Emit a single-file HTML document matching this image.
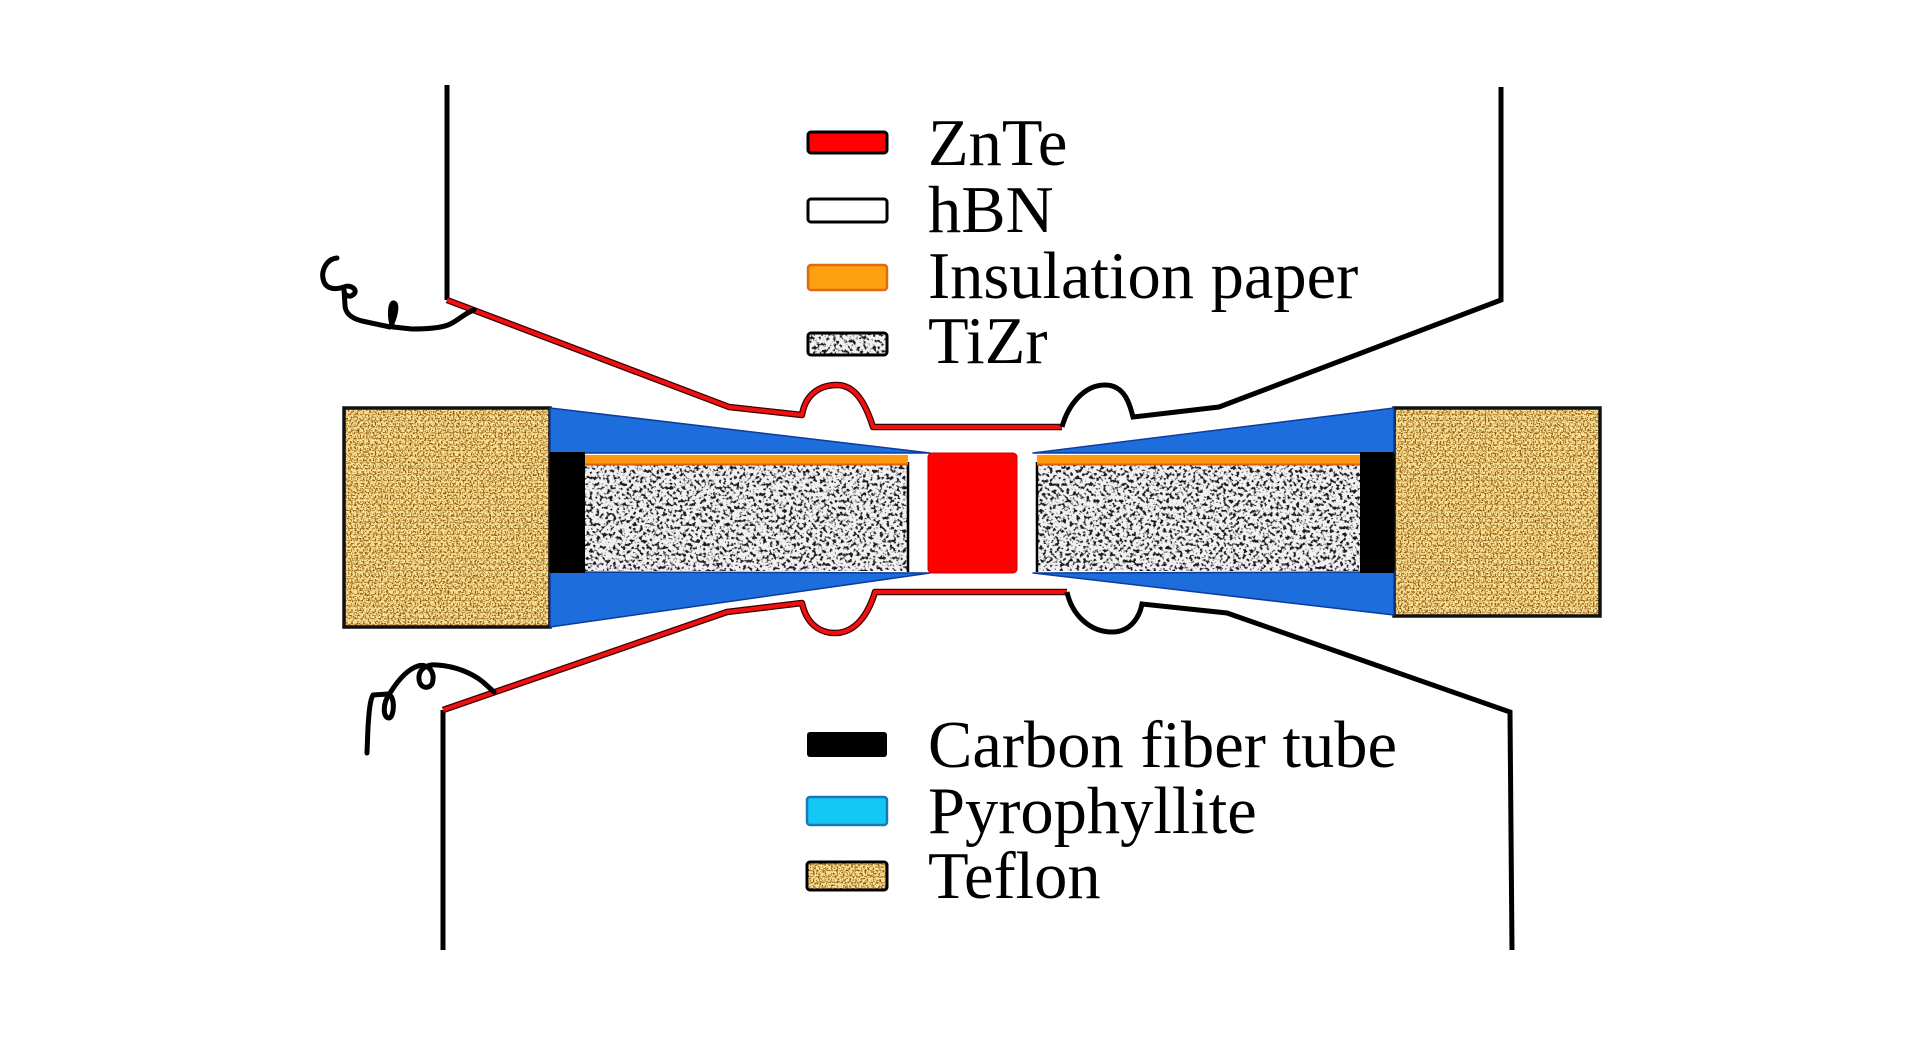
<!DOCTYPE html>
<html>
<head>
<meta charset="utf-8">
<style>
  html,body{margin:0;padding:0;background:#fff;}
  svg{display:block;}
  text{font-family:"Liberation Serif","Times New Roman",serif;font-size:66.5px;fill:#000;}
</style>
</head>
<body>
<svg width="1923" height="1039" viewBox="0 0 1923 1039" xmlns="http://www.w3.org/2000/svg">
  <defs>
    <filter id="fz" x="0" y="0" width="1" height="1" filterUnits="objectBoundingBox" color-interpolation-filters="sRGB">
      <feTurbulence type="fractalNoise" baseFrequency="0.3" numOctaves="2" seed="7" result="n"/>
      <feColorMatrix in="n" type="matrix" values="0 0 0 0 0.1  0 0 0 0 0.1  0 0 0 0 0.12  -6.5 0 0 0 3.2"/>
    </filter>
    <filter id="ft" x="0" y="0" width="1" height="1" filterUnits="objectBoundingBox" color-interpolation-filters="sRGB">
      <feTurbulence type="fractalNoise" baseFrequency="0.6" numOctaves="2" seed="3" result="n"/>
      <feColorMatrix in="n" type="matrix" values="0 0 0 0 0.5  0 0 0 0 0.32  0 0 0 0 0.06  -5 0 0 0 2.5"/>
    </filter>
    <pattern id="tw" width="6" height="6" patternUnits="userSpaceOnUse">
      <rect width="6" height="6" fill="#fbe39a"/>
      <rect x="0" y="0" width="3" height="1.2" fill="#c99438"/>
      <rect x="3" y="3" width="1.2" height="3" fill="#c99438"/>
      <rect x="4.5" y="0" width="1" height="1" fill="#e0b25a"/>
    </pattern>
  </defs>

  <!-- ===== Teflon blocks ===== -->
  <rect x="344" y="408" width="206" height="219" fill="url(#tw)"/>
  <rect x="344" y="408" width="206" height="219" fill="#000" filter="url(#ft)"/>
  <rect x="344" y="408" width="206" height="219" fill="none" stroke="#111" stroke-width="3.5"/>

  <rect x="1394" y="408" width="206" height="208" fill="url(#tw)"/>
  <rect x="1394" y="408" width="206" height="208" fill="#000" filter="url(#ft)"/>
  <rect x="1394" y="408" width="206" height="208" fill="none" stroke="#111" stroke-width="3.5"/>

  <!-- ===== Pyrophyllite (blue) ===== -->
  <polygon points="550,408 930,453 550,453" fill="#1e6ddc" stroke="#0d3c9c" stroke-width="1.5" stroke-linejoin="round"/>
  <polygon points="550,572 930,573 550,627" fill="#1e6ddc" stroke="#0d3c9c" stroke-width="1.5" stroke-linejoin="round"/>
  <polygon points="1394,408 1033,453 1394,453" fill="#1e6ddc" stroke="#0d3c9c" stroke-width="1.5" stroke-linejoin="round"/>
  <polygon points="1394,572 1033,573 1394,615" fill="#1e6ddc" stroke="#0d3c9c" stroke-width="1.5" stroke-linejoin="round"/>

  <!-- ===== Carbon fiber tube ===== -->
  <rect x="550" y="452" width="35" height="121" fill="#000"/>
  <rect x="1360" y="452" width="34" height="121" fill="#000"/>

  <!-- ===== TiZr ===== -->
  <rect x="585" y="465" width="323" height="106" fill="#f2f2f2"/>
  <rect x="585" y="465" width="323" height="106" fill="#000" filter="url(#fz)"/>
  <rect x="1037" y="465" width="323" height="106" fill="#f2f2f2"/>
  <rect x="1037" y="465" width="323" height="106" fill="#000" filter="url(#fz)"/>
  <line x1="908" y1="462" x2="908" y2="572" stroke="#000" stroke-width="2.5"/>
  <line x1="1037" y1="462" x2="1037" y2="572" stroke="#000" stroke-width="2.5"/>

  <!-- ===== Insulation paper ===== -->
  <rect x="585" y="455" width="323" height="10" fill="#ff9a10"/>
  <line x1="585" y1="464.5" x2="908" y2="464.5" stroke="#e06000" stroke-width="2"/>
  <rect x="1037" y="455" width="323" height="10" fill="#ff9a10"/>
  <line x1="1037" y1="464.5" x2="1360" y2="464.5" stroke="#e06000" stroke-width="2"/>

  <!-- ===== ZnTe ===== -->
  <rect x="928" y="453" width="89" height="120" rx="4" fill="#ff0000" stroke="#d00000" stroke-width="1"/>

  <!-- ===== Wires top ===== -->
  <path d="M447,85 L447,300" stroke="#000" stroke-width="5" fill="none"/>
  <path d="M447,300 L729,407 L802,415 C805,396 818,385 837,385 C856,385 866,405 873,427 L1062,427" stroke="#3a0000" stroke-width="6.5" fill="none" stroke-linejoin="round"/>
  <path d="M447,300 L729,407 L802,415 C805,396 818,385 837,385 C856,385 866,405 873,427 L1062,427" stroke="#f01010" stroke-width="4" fill="none" stroke-linejoin="round"/>
  <path d="M1062,427 C1068,405 1084,385 1105,385 C1125,385 1130,405 1133,417 L1219,407 L1501,300 L1501,87" stroke="#000" stroke-width="5" fill="none" stroke-linejoin="miter"/>
  <!-- top coil -->
  <path d="M337,258 C326,259 320,272 324,282 C327,289 335,290 344,287 C351,284 358,290 354,294 C350,298 344,296 344,290 L345,305 C345,312 350,318 362,321 L390,327 C395,318 398,305 394,303 C390,302 389,318 393,327 L412,329 C425,329 440,328 448,325 C458,321 463,314 474,310" stroke="#000" stroke-width="5" fill="none" stroke-linecap="round" stroke-linejoin="round"/>

  <!-- ===== Wires bottom ===== -->
  <path d="M443,950 L443,710" stroke="#000" stroke-width="5" fill="none"/>
  <path d="M443,710 L727,612 L802,603 C806,622 818,633 835,633 C855,633 868,615 875,592 L1067,592" stroke="#3a0000" stroke-width="6.5" fill="none" stroke-linejoin="round"/>
  <path d="M443,710 L727,612 L802,603 C806,622 818,633 835,633 C855,633 868,615 875,592 L1067,592" stroke="#f01010" stroke-width="4" fill="none" stroke-linejoin="round"/>
  <path d="M1067,592 C1072,615 1090,632 1112,632 C1132,632 1140,615 1142,604 L1227,613 L1510,712 L1512,950" stroke="#000" stroke-width="5" fill="none"/>
  <!-- bottom coil -->
  <path d="M367,753 L368,727 C369,712 370,700 373,695 L388,694 C396,696 394,718 389,718 C383,718 382,704 390,693 C395,685 405,670 418,666 C428,663 436,672 432,684 C428,690 418,688 419,676 C420,668 428,664 437,665 C455,666 472,673 483,682 L494,692" stroke="#000" stroke-width="5" fill="none" stroke-linecap="round" stroke-linejoin="round"/>

  <!-- ===== Legend top ===== -->
  <rect x="808" y="132" width="79" height="21" rx="3" fill="#ff0000" stroke="#000" stroke-width="3"/>
  <rect x="808" y="199" width="79" height="23" rx="3" fill="#fff" stroke="#000" stroke-width="3"/>
  <rect x="808" y="265" width="79" height="25" rx="3" fill="#ffa010" stroke="#e06a10" stroke-width="2.5"/>
  <rect x="808" y="333" width="79" height="22" fill="#f2f2f2"/>
  <rect x="808" y="333" width="79" height="22" fill="#000" filter="url(#fz)"/>
  <rect x="808" y="333" width="79" height="22" rx="3" fill="none" stroke="#000" stroke-width="3"/>

  <text x="928" y="165">ZnTe</text>
  <text x="928" y="232">hBN</text>
  <text x="928" y="298">Insulation paper</text>
  <text x="928" y="363">TiZr</text>

  <!-- ===== Legend bottom ===== -->
  <rect x="807" y="732" width="80" height="25" rx="3" fill="#000"/>
  <rect x="807" y="797" width="80" height="28" rx="3" fill="#12c8f2" stroke="#1878b8" stroke-width="2.5"/>
  <rect x="807" y="862" width="80" height="28" fill="url(#tw)"/>
  <rect x="807" y="862" width="80" height="28" fill="#000" filter="url(#ft)"/>
  <rect x="807" y="862" width="80" height="28" rx="3" fill="none" stroke="#000" stroke-width="3"/>

  <text x="928" y="767">Carbon fiber tube</text>
  <text x="928" y="833">Pyrophyllite</text>
  <text x="928" y="898">Teflon</text>
</svg>
</body>
</html>
